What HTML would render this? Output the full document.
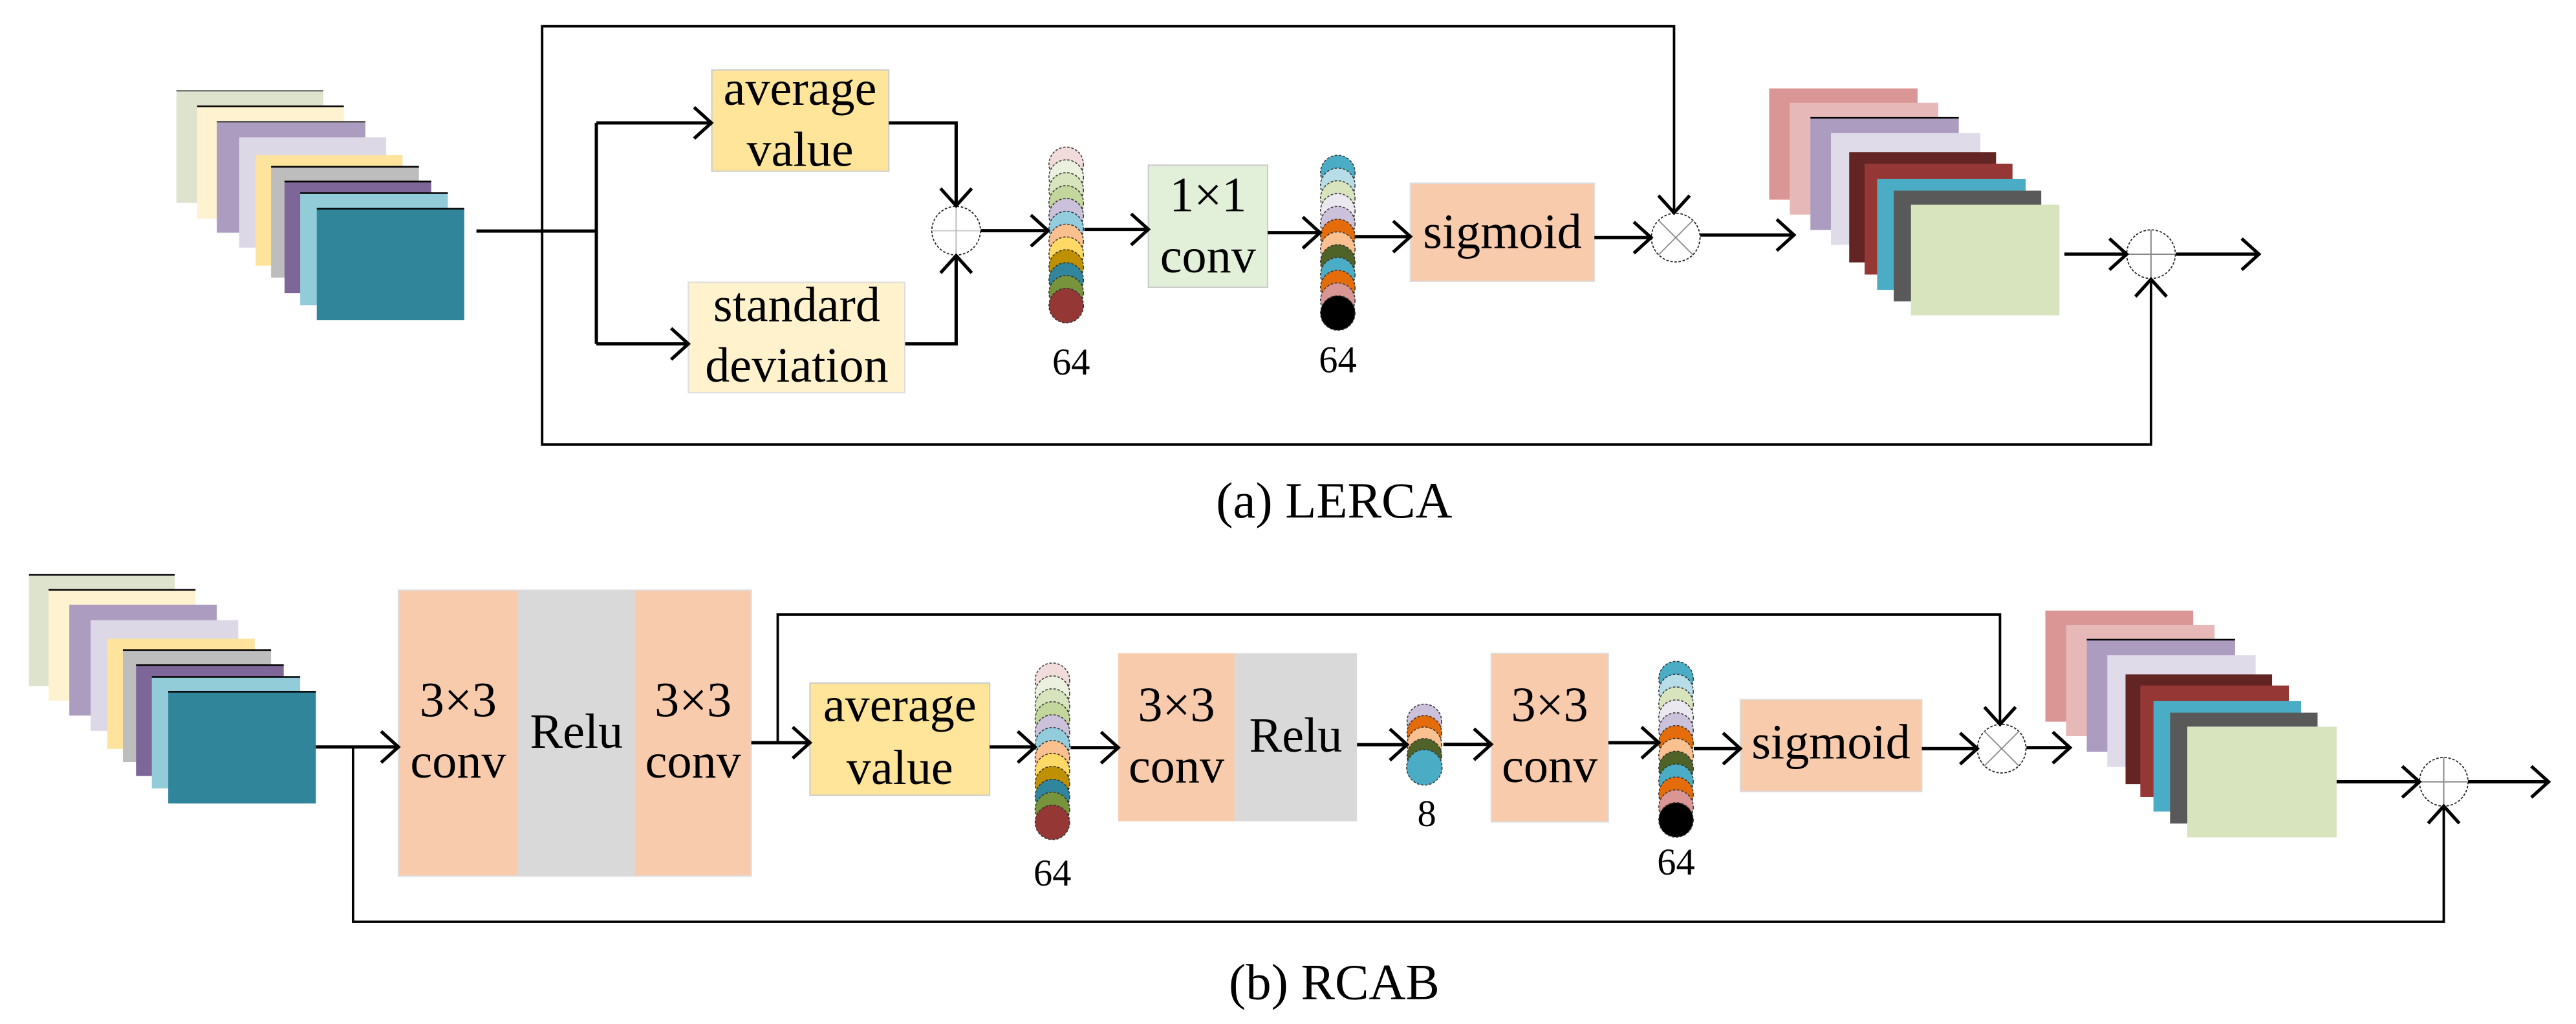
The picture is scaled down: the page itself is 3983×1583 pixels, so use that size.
<!DOCTYPE html>
<html><head><meta charset="utf-8"><style>
html,body{margin:0;padding:0;background:#fff;}
svg{display:block;}
text{font-family:"Liberation Serif",serif;fill:#000;}
</style></head><body>
<svg width="3983" height="1583" viewBox="0 0 1568 623.2" preserveAspectRatio="none" xmlns="http://www.w3.org/2000/svg">
<defs>
<marker id="ar" markerUnits="userSpaceOnUse" viewBox="-1 -11 13 22" refX="10.5" refY="0" markerWidth="13" markerHeight="22" orient="auto">
<path d="M0,-9.5 L10.5,0 L0,9.5" fill="none" stroke="#000" stroke-width="2"/>
</marker>
</defs>
<rect width="1568" height="623.2" fill="#fff"/>

<!-- ===== Panel (a) ===== -->
<!-- input stack -->
<g stroke-width="1">
<rect x="107.4" y="55.2" width="89.4" height="68.3" fill="#dde3cc"/><line x1="107.4" y1="55.2" x2="196.8" y2="55.2" stroke="#777"/>
<rect x="120" y="64.7" width="89.3" height="68.3" fill="#fef2d0"/><line x1="120" y1="64.7" x2="209.3" y2="64.7" stroke="#000"/>
<rect x="132" y="74.1" width="90.4" height="67.5" fill="#ab9cc0"/><line x1="132" y1="74.1" x2="222.4" y2="74.1" stroke="#555"/>
<rect x="145.6" y="83.6" width="89.4" height="67.1" fill="#ddd8e6"/>
<rect x="155.6" y="94.4" width="89.4" height="67.3" fill="#fde39b"/>
<rect x="165" y="101.5" width="90" height="67.5" fill="#bdbdbd"/><line x1="165" y1="101.5" x2="255" y2="101.5" stroke="#000"/>
<rect x="173.2" y="110.5" width="89.3" height="67.9" fill="#7e6699"/><line x1="173.2" y1="110.5" x2="262.5" y2="110.5" stroke="#000"/>
<rect x="182.7" y="117.5" width="89.9" height="68.3" fill="#92ccd9"/><line x1="182.7" y1="117.5" x2="272.6" y2="117.5" stroke="#000"/>
<rect x="192.8" y="127" width="89.8" height="67.9" fill="#31859b"/><line x1="192.8" y1="127" x2="282.6" y2="127" stroke="#000"/>
</g>

<!-- boxes (a) -->
<rect x="433.3" y="42.6" width="107.7" height="61.6" fill="#fee599" stroke="#ccc" stroke-width="0.8"/>
<rect x="419" y="171.8" width="131.7" height="67.2" fill="#fff2cc" stroke="#ddd" stroke-width="0.8"/>
<rect x="699" y="100.5" width="72.6" height="74.3" fill="#e2efd9" stroke="#ccc" stroke-width="0.8"/>
<rect x="858.5" y="111.5" width="112" height="59.7" fill="#f8cbad" stroke="#ddd" stroke-width="0.8"/>

<text x="487" y="63.7" font-size="30" text-anchor="middle">average</text>
<text x="487" y="101" font-size="30" text-anchor="middle">value</text>
<text x="485" y="195.5" font-size="30" text-anchor="middle">standard</text>
<text x="485" y="232.3" font-size="30" text-anchor="middle">deviation</text>
<text x="735.3" y="128.6" font-size="30" text-anchor="middle">1×1</text>
<text x="735.3" y="165.7" font-size="30" text-anchor="middle">conv</text>
<text x="914.5" y="151" font-size="30" text-anchor="middle">sigmoid</text>
<text x="652" y="228" font-size="23" text-anchor="middle">64</text>
<text x="814.3" y="226.6" font-size="23" text-anchor="middle">64</text>

<!-- column 1 (a) -->
<g stroke="#333" stroke-width="0.6" stroke-dasharray="1.5 1">
<circle cx="649" cy="100" r="10.5" fill="#f2dcdb"/>
<circle cx="649" cy="107.8" r="10.5" fill="#ebf1de"/>
<circle cx="649" cy="115.6" r="10.5" fill="#d7e4bd"/>
<circle cx="649" cy="123.5" r="10.5" fill="#c3d69b"/>
<circle cx="649" cy="131.3" r="10.5" fill="#ccc1da"/>
<circle cx="649" cy="139.1" r="10.5" fill="#93cddd"/>
<circle cx="649" cy="146.9" r="10.5" fill="#fac090"/>
<circle cx="649" cy="154.7" r="10.5" fill="#ffd966"/>
<circle cx="649" cy="162.5" r="10.5" fill="#bf9000"/>
<circle cx="649" cy="170.4" r="10.5" fill="#31859c"/>
<circle cx="649" cy="178.2" r="10.5" fill="#77933c"/>
<circle cx="649" cy="186" r="10.5" fill="#953735"/>
</g>
<!-- column 2 (a) -->
<g stroke="#333" stroke-width="0.6" stroke-dasharray="1.5 1">
<circle cx="814.3" cy="105" r="10.5" fill="#4bacc6"/>
<circle cx="814.3" cy="112.8" r="10.5" fill="#b7dee8"/>
<circle cx="814.3" cy="120.5" r="10.5" fill="#d7e4bd"/>
<circle cx="814.3" cy="128.3" r="10.5" fill="#ebe8f0"/>
<circle cx="814.3" cy="136.1" r="10.5" fill="#ccc1da"/>
<circle cx="814.3" cy="143.9" r="10.5" fill="#e46c0a"/>
<circle cx="814.3" cy="151.6" r="10.5" fill="#fac090"/>
<circle cx="814.3" cy="159.4" r="10.5" fill="#4f6228"/>
<circle cx="814.3" cy="167.2" r="10.5" fill="#4bacc6"/>
<circle cx="814.3" cy="175" r="10.5" fill="#e46c0a"/>
<circle cx="814.3" cy="182.7" r="10.5" fill="#d99694"/>
<circle cx="814.3" cy="190.5" r="10.5" fill="#000"/>
</g>

<!-- output stack (a) -->
<g stroke-width="1">
<rect x="1076.9" y="53.8" width="90.3" height="67.7" fill="#d99694"/>
<rect x="1089.4" y="62.5" width="90.4" height="68.1" fill="#e6b9b8"/>
<rect x="1102" y="71.7" width="90.3" height="68.3" fill="#ab9cc0"/><line x1="1102" y1="71.7" x2="1192.3" y2="71.7" stroke="#000"/>
<rect x="1114.5" y="81" width="90.9" height="68" fill="#e0dbe8"/>
<rect x="1125.6" y="92.6" width="89.4" height="67.1" fill="#632523"/>
<rect x="1135" y="99.6" width="90" height="67.5" fill="#953735"/>
<rect x="1142.6" y="109" width="90.4" height="67.4" fill="#4bacc6"/>
<rect x="1152.7" y="116" width="89.8" height="67.4" fill="#595959"/>
<rect x="1163.2" y="124.6" width="90.4" height="67.3" fill="#d7e4bd"/>
</g>

<!-- operator circles (a) -->
<g>
<circle cx="582" cy="140.4" r="14.8" fill="#fff" stroke="#222" stroke-width="0.7" stroke-dasharray="1.5 1"/>
<line x1="567.2" y1="140.4" x2="596.8" y2="140.4" stroke="#ccc" stroke-width="0.8"/>
<line x1="582" y1="125.6" x2="582" y2="155.2" stroke="#bbb" stroke-width="0.8"/>
<circle cx="1020" cy="144.6" r="14.8" fill="#fff" stroke="#222" stroke-width="0.7" stroke-dasharray="1.5 1"/>
<line x1="1009.5" y1="134.1" x2="1030.5" y2="155.1" stroke="#888" stroke-width="0.7"/>
<line x1="1030.5" y1="134.1" x2="1009.5" y2="155.1" stroke="#888" stroke-width="0.7"/>
<circle cx="1309.3" cy="154.7" r="14.8" fill="#fff" stroke="#222" stroke-width="0.7" stroke-dasharray="1.5 1"/>
<line x1="1294.5" y1="154.7" x2="1324.1" y2="154.7" stroke="#888" stroke-width="0.8"/>
<line x1="1309.3" y1="139.9" x2="1309.3" y2="169.5" stroke="#888" stroke-width="0.8"/>
</g>

<!-- connectors (a) -->
<g fill="none" stroke="#000" stroke-width="2">
<path d="M290 140.6 H363"/>
<path d="M363 74.8 V209.3"/>
<path d="M363 74.8 H433" marker-end="url(#ar)"/>
<path d="M363 209.3 H419" marker-end="url(#ar)"/>
<path d="M541 74.8 H582 V125.2" marker-end="url(#ar)"/>
<path d="M551 209.3 H582 V155.6" marker-end="url(#ar)"/>
<path d="M597 140.4 H638" marker-end="url(#ar)"/>
<path d="M660 139.6 H699" marker-end="url(#ar)"/>
<path d="M771.6 141.6 H803.5" marker-end="url(#ar)"/>
<path d="M825 144 H858.5" marker-end="url(#ar)"/>
<path d="M970.5 144.6 H1005" marker-end="url(#ar)"/>
<path d="M1035 143 H1092" marker-end="url(#ar)"/>
<path d="M1256.6 154.7 H1294.5" marker-end="url(#ar)"/>
<path d="M1324.5 154.7 H1375" marker-end="url(#ar)"/>
</g>
<g fill="none" stroke="#000" stroke-width="1.5">
<path d="M330 140.6 V16 H1019 V129.5" marker-end="url(#ar)"/>
<path d="M330 140.6 V270.5 H1309.3 V170" marker-end="url(#ar)"/>
</g>

<text x="740.2" y="315" font-size="31">(a) LERCA</text>

<!-- ===== Panel (b) ===== -->
<g stroke-width="1">
<rect x="17.6" y="349.8" width="88.8" height="67.8" fill="#dde3cc"/><line x1="17.6" y1="349.8" x2="106.4" y2="349.8" stroke="#000"/>
<rect x="29.6" y="359" width="89.4" height="67.5" fill="#fef2d0"/><line x1="29.6" y1="359" x2="119" y2="359" stroke="#000"/>
<rect x="42.2" y="368" width="89.8" height="67.5" fill="#ab9cc0"/>
<rect x="55.2" y="377.5" width="89.8" height="67.3" fill="#ddd8e6"/>
<rect x="65.3" y="388.7" width="89.7" height="67.1" fill="#fde39b"/>
<rect x="74.8" y="395.6" width="90.2" height="68.2" fill="#bdbdbd"/><line x1="74.8" y1="395.6" x2="165" y2="395.6" stroke="#000"/>
<rect x="82.8" y="404.8" width="89.9" height="67.5" fill="#7e6699"/><line x1="82.8" y1="404.8" x2="172.7" y2="404.8" stroke="#000"/>
<rect x="92.4" y="412" width="90.3" height="67.8" fill="#92ccd9"/><line x1="92.4" y1="412" x2="182.7" y2="412" stroke="#000"/>
<rect x="102.4" y="421" width="89.9" height="68" fill="#31859b"/><line x1="102.4" y1="421" x2="192.3" y2="421" stroke="#000"/>
</g>

<!-- boxes (b) -->
<rect x="242.5" y="359.2" width="72.8" height="174" fill="#f8cbad"/>
<rect x="315.3" y="359.2" width="71.2" height="174" fill="#d9d9d9"/>
<rect x="386.5" y="359.2" width="70.8" height="174" fill="#f8cbad"/>
<rect x="242.5" y="359.2" width="214.8" height="174" fill="none" stroke="#ddd" stroke-width="0.8"/>
<rect x="493" y="415.7" width="109.4" height="68.3" fill="#fee599" stroke="#ccc" stroke-width="0.8"/>
<rect x="680.7" y="397.6" width="70.8" height="102.2" fill="#f8cbad"/>
<rect x="751.5" y="397.6" width="74.5" height="102.2" fill="#d9d9d9"/>
<rect x="907.7" y="397.6" width="71.3" height="102.6" fill="#f8cbad" stroke="#ddd" stroke-width="0.8"/>
<rect x="1059.3" y="425.7" width="110.5" height="56" fill="#f8cbad" stroke="#ddd" stroke-width="0.8"/>

<text x="278.9" y="436" font-size="30" text-anchor="middle">3×3</text>
<text x="278.9" y="473.3" font-size="30" text-anchor="middle">conv</text>
<text x="350.9" y="455" font-size="30" text-anchor="middle">Relu</text>
<text x="421.9" y="436" font-size="30" text-anchor="middle">3×3</text>
<text x="421.9" y="473.3" font-size="30" text-anchor="middle">conv</text>
<text x="547.7" y="438.9" font-size="30" text-anchor="middle">average</text>
<text x="547.7" y="477.2" font-size="30" text-anchor="middle">value</text>
<text x="716.1" y="438.9" font-size="30" text-anchor="middle">3×3</text>
<text x="716.1" y="476.2" font-size="30" text-anchor="middle">conv</text>
<text x="788.7" y="457.5" font-size="30" text-anchor="middle">Relu</text>
<text x="943.3" y="438.9" font-size="30" text-anchor="middle">3×3</text>
<text x="943.3" y="476" font-size="30" text-anchor="middle">conv</text>
<text x="1114.5" y="461.5" font-size="30" text-anchor="middle">sigmoid</text>
<text x="640.6" y="539" font-size="23" text-anchor="middle">64</text>
<text x="868.5" y="502.7" font-size="23" text-anchor="middle">8</text>
<text x="1020.2" y="532.2" font-size="23" text-anchor="middle">64</text>

<!-- column 3 (b) -->
<g stroke="#333" stroke-width="0.6" stroke-dasharray="1.5 1">
<circle cx="640.6" cy="414" r="10.5" fill="#f2dcdb"/>
<circle cx="640.6" cy="421.9" r="10.5" fill="#ebf1de"/>
<circle cx="640.6" cy="429.7" r="10.5" fill="#d7e4bd"/>
<circle cx="640.6" cy="437.6" r="10.5" fill="#c3d69b"/>
<circle cx="640.6" cy="445.5" r="10.5" fill="#ccc1da"/>
<circle cx="640.6" cy="453.3" r="10.5" fill="#93cddd"/>
<circle cx="640.6" cy="461.2" r="10.5" fill="#fac090"/>
<circle cx="640.6" cy="469" r="10.5" fill="#ffd966"/>
<circle cx="640.6" cy="476.9" r="10.5" fill="#bf9000"/>
<circle cx="640.6" cy="484.8" r="10.5" fill="#31859c"/>
<circle cx="640.6" cy="492.6" r="10.5" fill="#77933c"/>
<circle cx="640.6" cy="500.5" r="10.5" fill="#953735"/>
</g>
<!-- column 8 (b) -->
<g stroke="#333" stroke-width="0.6" stroke-dasharray="1.5 1">
<circle cx="867" cy="439" r="10.5" fill="#ccc1da"/>
<circle cx="867" cy="446" r="10.5" fill="#e46c0a"/>
<circle cx="867" cy="453" r="10.5" fill="#fac090"/>
<circle cx="867" cy="460" r="10.5" fill="#4f6228"/>
<circle cx="867" cy="467" r="10.8" fill="#4bacc6"/>
</g>
<!-- column 4 (b) -->
<g stroke="#333" stroke-width="0.6" stroke-dasharray="1.5 1">
<circle cx="1020.2" cy="413" r="10.5" fill="#4bacc6"/>
<circle cx="1020.2" cy="420.8" r="10.5" fill="#b7dee8"/>
<circle cx="1020.2" cy="428.6" r="10.5" fill="#d7e4bd"/>
<circle cx="1020.2" cy="436.5" r="10.5" fill="#ebe8f0"/>
<circle cx="1020.2" cy="444.3" r="10.5" fill="#ccc1da"/>
<circle cx="1020.2" cy="452.1" r="10.5" fill="#e46c0a"/>
<circle cx="1020.2" cy="459.9" r="10.5" fill="#fac090"/>
<circle cx="1020.2" cy="467.7" r="10.5" fill="#4f6228"/>
<circle cx="1020.2" cy="475.5" r="10.5" fill="#4bacc6"/>
<circle cx="1020.2" cy="483.4" r="10.5" fill="#e46c0a"/>
<circle cx="1020.2" cy="491.2" r="10.5" fill="#d99694"/>
<circle cx="1020.2" cy="499" r="10.5" fill="#000"/>
</g>

<!-- output stack (b) -->
<g stroke-width="1">
<rect x="1245" y="371.6" width="90" height="67.6" fill="#d99694"/>
<rect x="1257.6" y="380.3" width="90.4" height="67.7" fill="#e6b9b8"/>
<rect x="1270.2" y="389.3" width="90.3" height="68.2" fill="#ab9cc0"/><line x1="1270.2" y1="389.3" x2="1360.5" y2="389.3" stroke="#000"/>
<rect x="1282.7" y="398.8" width="90.3" height="68" fill="#e0dbe8"/>
<rect x="1293.8" y="410.4" width="89.2" height="66.8" fill="#632523"/>
<rect x="1302.8" y="417.2" width="90.4" height="67.8" fill="#953735"/>
<rect x="1310.8" y="426.7" width="89.9" height="67.2" fill="#4bacc6"/>
<rect x="1320.9" y="433.7" width="89.8" height="67.5" fill="#595959"/>
<rect x="1331.4" y="442.2" width="90.9" height="67.4" fill="#d7e4bd"/>
</g>

<!-- operator circles (b) -->
<circle cx="1218.4" cy="455.6" r="14.8" fill="#fff" stroke="#222" stroke-width="0.7" stroke-dasharray="1.5 1"/>
<line x1="1207.9" y1="445.1" x2="1228.9" y2="466.1" stroke="#888" stroke-width="0.7"/>
<line x1="1228.9" y1="445.1" x2="1207.9" y2="466.1" stroke="#888" stroke-width="0.7"/>
<circle cx="1487.5" cy="475.8" r="14.8" fill="#fff" stroke="#222" stroke-width="0.7" stroke-dasharray="1.5 1"/>
<line x1="1472.7" y1="475.8" x2="1502.3" y2="475.8" stroke="#888" stroke-width="0.8"/>
<line x1="1487.5" y1="461" x2="1487.5" y2="490.6" stroke="#888" stroke-width="0.8"/>

<!-- connectors (b) -->
<g fill="none" stroke="#000" stroke-width="2">
<path d="M192.3 454.6 H242.5" marker-end="url(#ar)"/>
<path d="M457.3 452 H493" marker-end="url(#ar)"/>
<path d="M602.4 454.6 H630" marker-end="url(#ar)"/>
<path d="M651.6 455 H680.7" marker-end="url(#ar)"/>
<path d="M826 453.2 H856.5" marker-end="url(#ar)"/>
<path d="M878.6 453 H907.7" marker-end="url(#ar)"/>
<path d="M979 452 H1009.7" marker-end="url(#ar)"/>
<path d="M1031 455.6 H1059.3" marker-end="url(#ar)"/>
<path d="M1169.8 455.6 H1203.6" marker-end="url(#ar)"/>
<path d="M1233.5 455 H1260" marker-end="url(#ar)"/>
<path d="M1422.3 475.8 H1472.7" marker-end="url(#ar)"/>
<path d="M1502.3 475.8 H1551.3" marker-end="url(#ar)"/>
</g>
<g fill="none" stroke="#000" stroke-width="1.5">
<path d="M214.9 454.6 V561 H1487.5 V490.6" marker-end="url(#ar)"/>
<path d="M473.4 452 V374 H1217.4 V440.8" marker-end="url(#ar)"/>
</g>

<text x="748" y="608" font-size="31">(b) RCAB</text>
</svg>
</body></html>
